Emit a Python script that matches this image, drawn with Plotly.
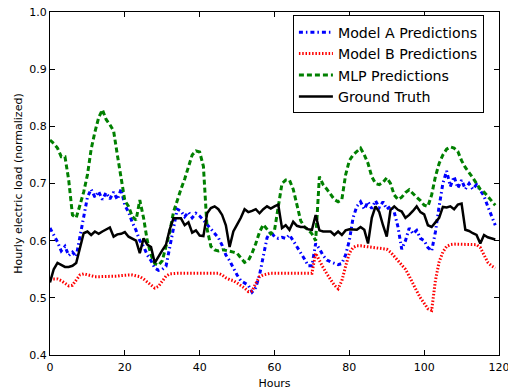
import plotly.graph_objects as go

hours = list(range(120))

model_a = [
    0.622, 0.610, 0.598, 0.582, 0.590, 0.574, 0.580, 0.572, 0.605, 0.640,
    0.676, 0.690, 0.676, 0.686, 0.672, 0.684, 0.673, 0.685, 0.672, 0.690,
    0.662, 0.650, 0.632, 0.618, 0.600, 0.590, 0.575, 0.565, 0.552, 0.548,
    0.550, 0.555, 0.590, 0.625, 0.655, 0.652, 0.642, 0.650, 0.640, 0.648,
    0.643, 0.636, 0.628, 0.620, 0.612, 0.605, 0.592, 0.575, 0.565, 0.552,
    0.540, 0.530, 0.526, 0.522, 0.510, 0.518, 0.540, 0.570, 0.605, 0.616,
    0.607, 0.604, 0.606, 0.604, 0.610, 0.600, 0.590, 0.580, 0.568, 0.556,
    0.556, 0.595, 0.586, 0.574, 0.566, 0.563, 0.560, 0.558, 0.560, 0.575,
    0.600, 0.640, 0.660, 0.668, 0.655, 0.668, 0.656, 0.670, 0.658, 0.668,
    0.655, 0.660, 0.650, 0.624, 0.585, 0.600, 0.622, 0.612, 0.618, 0.604,
    0.600, 0.588, 0.582, 0.615, 0.660, 0.700, 0.722, 0.695, 0.712, 0.692,
    0.706, 0.690, 0.700, 0.690, 0.698, 0.688, 0.678, 0.660, 0.642, 0.627,
]

model_b = [
    0.533, 0.533, 0.533, 0.530, 0.526, 0.521, 0.522, 0.530, 0.540, 0.542,
    0.540, 0.538, 0.537, 0.537, 0.537, 0.537, 0.537, 0.538, 0.538, 0.539,
    0.540, 0.540, 0.540, 0.539, 0.537, 0.533, 0.528, 0.522, 0.517, 0.520,
    0.530, 0.538, 0.542, 0.543, 0.543, 0.543, 0.543, 0.543, 0.543, 0.543,
    0.543, 0.543, 0.543, 0.543, 0.543, 0.543, 0.540, 0.535, 0.532, 0.530,
    0.526, 0.522, 0.517, 0.511, 0.512, 0.525, 0.537, 0.540, 0.542, 0.543,
    0.543, 0.543, 0.543, 0.543, 0.543, 0.543, 0.543, 0.543, 0.543, 0.543,
    0.543, 0.578, 0.565, 0.553, 0.542, 0.532, 0.522, 0.516, 0.530, 0.555,
    0.578, 0.588, 0.591, 0.591, 0.590, 0.589, 0.588, 0.587, 0.586, 0.585,
    0.585, 0.580, 0.572, 0.565, 0.558, 0.550, 0.538, 0.524, 0.512, 0.500,
    0.490, 0.481, 0.478, 0.530, 0.563, 0.580, 0.590, 0.593, 0.594, 0.594,
    0.594, 0.594, 0.594, 0.594, 0.593, 0.588, 0.575, 0.562, 0.556, 0.552,
]

mlp = [
    0.776, 0.770, 0.762, 0.747, 0.747, 0.706, 0.645, 0.640, 0.662, 0.685,
    0.715, 0.760, 0.790, 0.815, 0.829, 0.812, 0.803, 0.792, 0.750, 0.710,
    0.670, 0.660, 0.642, 0.636, 0.671, 0.640, 0.600, 0.575, 0.560, 0.557,
    0.565, 0.590, 0.615, 0.650, 0.671, 0.690, 0.708, 0.730, 0.750, 0.757,
    0.755, 0.730, 0.620, 0.590, 0.584, 0.582, 0.584, 0.583, 0.582, 0.580,
    0.578, 0.570, 0.562, 0.565, 0.578, 0.595, 0.615, 0.628, 0.620, 0.612,
    0.618, 0.660, 0.700, 0.706, 0.706, 0.690, 0.660, 0.635, 0.624, 0.619,
    0.612, 0.600, 0.712, 0.698, 0.690, 0.680, 0.672, 0.668, 0.672, 0.715,
    0.740, 0.750, 0.756, 0.762, 0.750, 0.735, 0.712, 0.700, 0.698, 0.702,
    0.710, 0.700, 0.680, 0.672, 0.676, 0.684, 0.689, 0.682, 0.676, 0.670,
    0.662, 0.660, 0.680, 0.712, 0.735, 0.750, 0.760, 0.764, 0.762, 0.756,
    0.740, 0.728, 0.720, 0.710, 0.700, 0.690, 0.685, 0.677, 0.670, 0.662,
]

ground_truth = [
    0.527, 0.550, 0.561, 0.557, 0.554, 0.554, 0.556, 0.561, 0.585, 0.613,
    0.616, 0.610, 0.616, 0.612, 0.616, 0.620, 0.623, 0.607, 0.611, 0.612,
    0.615, 0.607, 0.604, 0.600, 0.578, 0.604, 0.593, 0.589, 0.561, 0.573,
    0.583, 0.593, 0.620, 0.639, 0.639, 0.639, 0.627, 0.632, 0.614, 0.618,
    0.609, 0.608, 0.648, 0.657, 0.660, 0.655, 0.645, 0.627, 0.589, 0.616,
    0.628, 0.640, 0.655, 0.650, 0.652, 0.655, 0.648, 0.655, 0.660, 0.656,
    0.660, 0.663, 0.622, 0.627, 0.619, 0.633, 0.626, 0.624, 0.624, 0.620,
    0.619, 0.645, 0.618, 0.616, 0.616, 0.616, 0.610, 0.616, 0.610, 0.618,
    0.620, 0.619, 0.619, 0.624, 0.619, 0.595, 0.640, 0.660, 0.650, 0.627,
    0.607, 0.654, 0.660, 0.654, 0.651, 0.640, 0.645, 0.652, 0.660, 0.650,
    0.646, 0.627, 0.624, 0.632, 0.640, 0.659, 0.658, 0.660, 0.655, 0.663,
    0.665, 0.619, 0.617, 0.613, 0.610, 0.595, 0.610, 0.606, 0.604, 0.602,
]

x_ticks = [0, 20, 40, 60, 80, 100, 120]
y_ticks = [0.4, 0.5, 0.6, 0.7, 0.8, 0.9, 1.0]

series = [
    ("Model A Predictions", model_a, "#0000ff", "4px,3px,1.5px,3px", 3),
    ("Model B Predictions", model_b, "#ff0000", "1.5px,1.8px", 3),
    ("MLP Predictions", mlp, "#008000", "5px,3px", 3),
    ("Ground Truth", ground_truth, "#000000", "solid", 2.5),
]

fig = go.Figure()
for name, values, color, dash, width in series:
    fig.add_trace(go.Scatter(
        x=hours, y=values, name=name, mode="lines",
        line=dict(color=color, width=width, dash=dash),
    ))

label_font = dict(family="DejaVu Sans", size=11, color="black")
axis_style = dict(
    showgrid=False, zeroline=False, showline=True, linecolor="black",
    linewidth=1, mirror="ticks", ticks="inside", ticklen=5,
    tickcolor="black", tickwidth=1, ticklabeloverflow="allow",
    tickfont=label_font, automargin=False,
)

fig.update_xaxes(range=[0, 120], tickvals=x_ticks,
                 ticktext=[str(v) for v in x_ticks], ticklabelstandoff=2,
                 title=dict(text="Hours", font=label_font, standoff=7),
                 **axis_style)
fig.update_yaxes(range=[0.4, 1.0], tickvals=y_ticks,
                 ticktext=[f"{v:.1f}" for v in y_ticks],
                 title=dict(text="Hourly electric load (normalized)",
                            font=label_font, standoff=4),
                 **axis_style)

fig.update_layout(
    width=508, height=390,
    margin=dict(l=50, r=9, t=12, b=35),
    paper_bgcolor="white", plot_bgcolor="white",
    font=dict(family="DejaVu Sans", color="black"),
    legend=dict(
        x=0.541, y=0.99, xanchor="left", yanchor="top",
        bgcolor="white", bordercolor="black", borderwidth=1,
        font=dict(family="DejaVu Sans", size=14.2, color="black"),
        itemwidth=34, tracegroupgap=0,
    ),
)

fig.write_html("out.html")
